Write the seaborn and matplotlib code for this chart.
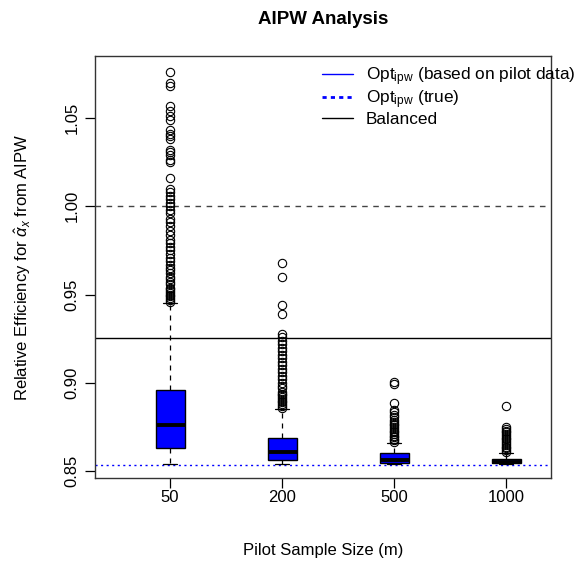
import matplotlib
matplotlib.use("Agg")
import matplotlib.pyplot as plt
import seaborn as sns
from matplotlib.lines import Line2D

# ---- data ----
pilot_sizes = ["50", "200", "500", "1000"]
q1 = [0.8632, 0.8564, 0.8547, 0.8547]
medians = [0.8762, 0.8609, 0.8562, 0.8553]
q3 = [0.8960, 0.8689, 0.8604, 0.8570]
whisker_lo = [0.8541, 0.8540, 0.8540, 0.8540]
whisker_hi = [0.9453, 0.8855, 0.8660, 0.8604]

outliers_50 = [1.076, 1.070, 1.068, 1.057, 1.054, 1.051, 1.049, 1.043, 1.041, 1.040,
               1.038, 1.032, 1.031, 1.029, 1.026, 1.025, 1.016, 1.010, 1.008, 1.006,
               1.004, 1.002, 1.000, 0.998, 0.996, 0.993, 0.991, 0.989, 0.986, 0.984,
               0.981, 0.979, 0.977, 0.975, 0.973, 0.971, 0.969, 0.967, 0.965, 0.964,
               0.962, 0.960, 0.959, 0.957, 0.956, 0.954, 0.953, 0.952, 0.951, 0.950,
               0.949, 0.948, 0.947, 0.946]
outliers_200 = [0.968, 0.960, 0.944, 0.939, 0.928, 0.926, 0.924, 0.922, 0.920, 0.918,
                0.916, 0.914, 0.912, 0.910, 0.908, 0.906, 0.904, 0.902, 0.900, 0.898,
                0.897, 0.895, 0.894, 0.893, 0.892, 0.891, 0.890, 0.889, 0.888, 0.887,
                0.886]
outliers_500 = [0.9007, 0.8996, 0.8887, 0.8847, 0.8835, 0.8820, 0.8805, 0.8790, 0.8780,
                0.8770, 0.8760, 0.8750, 0.8740, 0.8730, 0.8720, 0.8710, 0.8700, 0.8694,
                0.8685, 0.8675, 0.8668]
outliers_1000 = [0.8870, 0.8751, 0.8740, 0.8730, 0.8720, 0.8710, 0.8700, 0.8690, 0.8680,
                 0.8670, 0.8660, 0.8650, 0.8640, 0.8630, 0.8621, 0.8612]
outliers = [outliers_50, outliers_200, outliers_500, outliers_1000]

reference_line = 1.0
balanced_line = 0.9255
opt_true_line = 0.8536

# ---- style ----
sns.set_style("ticks")
plt.rcParams["font.family"] = ["Liberation Sans", "DejaVu Sans"]
plt.rcParams["mathtext.fontset"] = "custom"
plt.rcParams["mathtext.rm"] = "Liberation Sans"
plt.rcParams["mathtext.it"] = "Liberation Sans:italic"
plt.rcParams["text.color"] = "black"
plt.rcParams["axes.labelcolor"] = "black"

fig = plt.figure(figsize=(5.79, 5.65), dpi=100)
ax = fig.add_axes([95 / 579, 1 - 478 / 565, (551 - 95) / 579, (478 - 56) / 565])

stats = []
for i in range(len(pilot_sizes)):
    stats.append(dict(q1=q1[i], med=medians[i], q3=q3[i],
                      whislo=whisker_lo[i], whishi=whisker_hi[i],
                      fliers=outliers[i], label=pilot_sizes[i]))

ax.bxp(stats, positions=range(len(pilot_sizes)), widths=0.26, patch_artist=True,
       boxprops=dict(facecolor="#0000ff", edgecolor="black", linewidth=1.0),
       medianprops=dict(color="black", linewidth=2.8, solid_capstyle="butt"),
       whiskerprops=dict(color="black", linewidth=0.9, linestyle=(0, (4, 4))),
       capprops=dict(color="black", linewidth=0.9),
       capwidths=0.13,
       flierprops=dict(marker="o", markerfacecolor="none", markeredgecolor="black",
                       markersize=6, markeredgewidth=0.8, linestyle="none"))

ax.axhline(reference_line, color="#444444", lw=1.0, ls=(0, (4, 4)), zorder=0)
ax.axhline(balanced_line, color="black", lw=1.0, zorder=0)
ax.axhline(opt_true_line, color="#0000ff", lw=1.0, ls=(0, (1.5, 2.5)), zorder=0)

ax.set_xlim(-0.67, 3.40)
ax.set_ylim(0.8462, 1.0851)
ax.set_xticks(range(len(pilot_sizes)))
ax.set_xticklabels(pilot_sizes)
ax.set_yticks([0.85, 0.90, 0.95, 1.00, 1.05])
ax.set_yticklabels(["0.85", "0.90", "0.95", "1.00", "1.05"], rotation=90, va="center")
ax.tick_params(axis="both", direction="out", length=7, width=0.9, labelsize=12, colors="black")
ax.tick_params(axis="x", pad=2)
ax.tick_params(axis="y", pad=4)
for s in ax.spines.values():
    s.set_color("#333333")
    s.set_linewidth(1.0)

ax.set_xlabel("Pilot Sample Size (m)", fontsize=12, labelpad=27)
ax.set_ylabel(r"Relative Efficiency for $\hat{\alpha}_x$ from AIPW", fontsize=12, labelpad=23)
ax.set_title("AIPW Analysis", fontsize=13.5, fontweight="bold", pad=23, color="black")

handles = [Line2D([], [], color="#0000ff", lw=1.0),
           Line2D([], [], color="#0000ff", lw=2.0, ls=(0, (1.5, 1.5))),
           Line2D([], [], color="black", lw=1.0)]
labels = [r"Opt$_{\mathrm{ipw}}$ (based on pilot data)", r"Opt$_{\mathrm{ipw}}$ (true)", "Balanced"]
leg = ax.legend(handles, labels, loc="upper left", frameon=False, fontsize=12.4,
                handlelength=1.8, handletextpad=0.75, labelspacing=0.05,
                borderaxespad=0.0, borderpad=0.0,
                bbox_to_anchor=((322 - 95) / 456, 1 - (65 - 56) / 422))
for t in leg.get_texts():
    t.set_color("black")

fig.savefig("out.png", dpi=100)
